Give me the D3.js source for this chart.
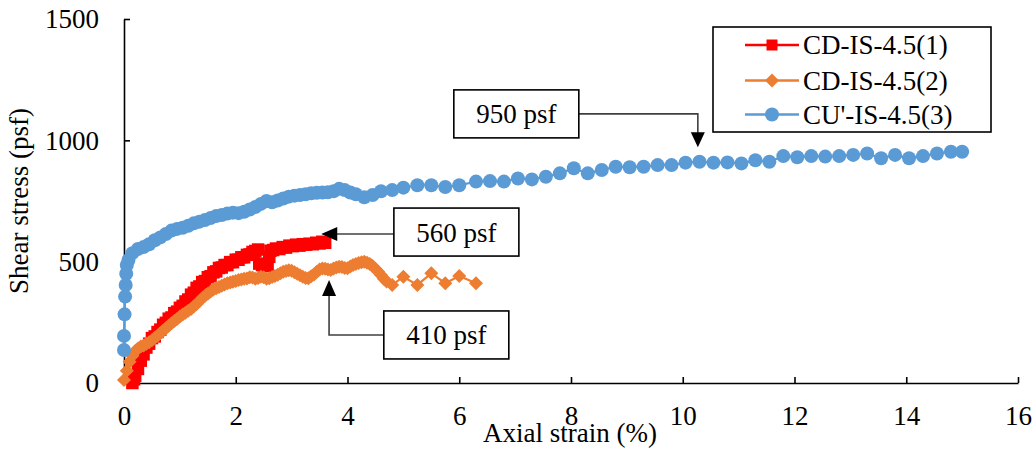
<!DOCTYPE html>
<html>
<head>
<meta charset="utf-8">
<script src="https://cdn.jsdelivr.net/npm/d3@7"></script>
<style>
  body { margin: 0; background: #fff; }
  svg { display: block; }
  text { font-family: "Liberation Serif", "Times New Roman", serif; fill: #000; }
</style>
</head>
<body>
<svg id="chart" width="1036" height="453"></svg>
<script>
// Series names (legend order)
const seriesNames = ["CD-IS-4.5(1)", "CD-IS-4.5(2)", "CU'-IS-4.5(3)"];

// CD-IS-4.5(1): axial strain (%) and shear stress (psf)
const strain1 = [0.15, 0.18, 0.2, 0.25, 0.3, 0.35, 0.4, 0.45, 0.5, 0.55, 0.6, 0.65, 0.7, 0.75, 0.8, 0.85, 0.9, 0.95,
  1.0, 1.05, 1.1, 1.15, 1.2, 1.25, 1.3, 1.35, 1.4, 1.45, 1.5, 1.55, 1.6, 1.65, 1.7, 1.75, 1.8, 1.85, 1.9, 1.95,
  2.0, 2.05, 2.1, 2.15, 2.2, 2.25, 2.3, 2.35, 2.4, 2.42, 2.47, 2.52, 2.57, 2.6, 2.62, 2.67, 2.72, 2.78, 2.84,
  2.9, 2.96, 3.02, 3.08, 3.14, 3.2, 3.26, 3.32, 3.38, 3.44, 3.5, 3.55, 3.6];
const stress1 = [0, 15, 30, 58, 92, 118, 146, 162, 185, 192, 210, 220, 240, 248, 265, 270, 288, 294,
  310, 318, 336, 344, 364, 372, 392, 398, 416, 420, 436, 440, 456, 460, 474, 476, 486, 486, 498, 498,
  508, 508, 518, 518, 528, 530, 540, 544, 550, 492, 486, 482, 486, 520, 545, 548, 554, 552, 560,
  558, 566, 564, 570, 566, 572, 570, 574, 572, 578, 575, 582, 578];

// CD-IS-4.5(2)
const strain2 = [0.0, 0.05, 0.1, 0.15, 0.2, 0.25, 0.3, 0.35, 0.4, 0.45, 0.5, 0.55, 0.6, 0.65, 0.7, 0.75, 0.8, 0.85,
  0.9, 0.95, 1.0, 1.05, 1.1, 1.15, 1.2, 1.25, 1.3, 1.35, 1.4, 1.45, 1.5, 1.55, 1.6, 1.65, 1.7, 1.75, 1.8, 1.85,
  1.9, 1.95, 2.0, 2.05, 2.1, 2.15, 2.2, 2.25, 2.3, 2.35, 2.4, 2.45, 2.5, 2.55, 2.6, 2.65, 2.7, 2.75, 2.8, 2.85,
  2.9, 2.95, 3.0, 3.05, 3.1, 3.15, 3.2, 3.25, 3.3, 3.35, 3.4, 3.45, 3.5, 3.55, 3.6, 3.65, 3.7, 3.75, 3.8, 3.85,
  3.9, 3.95, 4.0, 4.05, 4.1, 4.15, 4.2, 4.25, 4.3, 4.35, 4.4, 4.45, 4.5, 4.55, 4.6, 4.65, 4.7, 4.8,
  5.0, 5.25, 5.5, 5.75, 6.0, 6.3];
const stress2 = [12, 50, 88, 112, 132, 142, 150, 155, 162, 168, 176, 186, 195, 206, 215, 226, 236, 246,
  256, 264, 274, 282, 290, 298, 305, 316, 326, 338, 350, 360, 368, 377, 385, 390, 396, 401, 406, 411,
  414, 417, 420, 424, 426, 430, 431, 436, 435, 430, 433, 438, 436, 430, 432, 437, 441, 446, 452, 458,
  462, 465, 463, 456, 450, 444, 438, 433, 432, 440, 447, 458, 468, 472, 471, 468, 466, 472, 476, 479,
  478, 474, 473, 480, 486, 490, 494, 498, 500, 496, 490, 482, 470, 458, 445, 430, 418, 404,
  438, 404, 452, 411, 441, 411];

// CU'-IS-4.5(3)
const strain3 = [0.0, 0.0, 0.01, 0.02, 0.03, 0.04, 0.05, 0.08, 0.15, 0.25, 0.35, 0.45, 0.55, 0.65, 0.75, 0.85,
  0.95, 1.05, 1.15, 1.25, 1.35, 1.45, 1.55, 1.65, 1.75, 1.85, 1.95, 2.05, 2.15, 2.25, 2.35, 2.45, 2.55, 2.65,
  2.75, 2.85, 2.95, 3.05, 3.15, 3.25, 3.35, 3.45, 3.55, 3.65, 3.75, 3.85, 3.95, 4.05, 4.15, 4.3, 4.45, 4.6,
  4.8, 5.0, 5.25, 5.5, 5.75, 6.0, 6.3, 6.55, 6.8, 7.05, 7.3, 7.55, 7.8, 8.05, 8.3, 8.55, 8.8, 9.05, 9.3,
  9.55, 9.8, 10.05, 10.3, 10.55, 10.8, 11.05, 11.3, 11.55, 11.8, 12.05, 12.3, 12.55, 12.8, 13.05, 13.3,
  13.55, 13.8, 14.05, 14.3, 14.55, 14.8, 15.0];
const stress3 = [136, 194, 283, 356, 404, 450, 486, 507, 535, 552, 560, 572, 588, 600, 614, 628,
  635, 640, 648, 658, 665, 672, 680, 688, 692, 698, 702, 700, 706, 715, 725, 738, 750, 745,
  752, 760, 768, 772, 775, 778, 782, 784, 785, 786, 790, 800, 795, 785, 778, 765, 775, 790,
  795, 805, 815, 815, 808, 815, 830, 832, 830, 843, 839, 850, 864, 885, 864, 878, 891, 889, 891,
  898, 898, 908, 912, 908, 909, 905, 918, 912, 935, 930, 935, 933, 935, 940, 946,
  926, 940, 926, 935, 946, 953, 953];

// Axis ticks
const xTicks = [0, 2, 4, 6, 8, 10, 12, 14, 16];
const yTicks = [0, 500, 1000, 1500];

// Callout labels and their anchors in data units
const calloutText = ["560 psf", "410 psf", "950 psf"];
const calloutTip = [[3.53, 614], [3.67, 424], [10.27, 972]];
const calloutBox = [[4.83, 622], [4.65, 198], [8.14, 1109]];

const colors = ["#FF0000", "#ED7D31", "#5B9BD5"];

const svg = d3.select("#chart");
const x = d3.scaleLinear().domain([0, 16]).range([124, 1018]);
const y = d3.scaleLinear().domain([0, 1500]).range([383, 19]);

// Axes with inward ticks
const xAxis = d3.axisBottom(x).tickValues(xTicks).tickSizeInner(-6).tickSizeOuter(0).tickPadding(0).tickFormat(d3.format("d"));
const yAxis = d3.axisLeft(y).tickValues(yTicks).tickSizeInner(-6).tickSizeOuter(0).tickPadding(0).tickFormat(d3.format("d"));

const gx = svg.append("g").attr("transform", `translate(0,${y(0)})`).call(xAxis);
const gy = svg.append("g").attr("transform", `translate(${x(0)},0)`).call(yAxis);
[gx, gy].forEach(g => {
  g.select(".domain").attr("stroke", "#000").attr("stroke-width", 1.6);
  g.selectAll(".tick line").attr("stroke", "#000").attr("stroke-width", 1.6);
  g.selectAll(".tick text").attr("font-size", 27).attr("font-family", "Liberation Serif").attr("fill", "#000");
});
gx.selectAll(".tick text").attr("dy", 0).attr("y", 42);
gy.selectAll(".tick text").attr("x", -25).attr("dy", "0.33em");

// Axis titles
svg.append("text").attr("x", 570).attr("y", 442).attr("text-anchor", "middle")
  .attr("font-size", 27).text("Axial strain (%)");
svg.append("text").attr("transform", `translate(28,201) rotate(-90)`).attr("text-anchor", "middle")
  .attr("font-size", 27).text("Shear stress (psf)");

// Marker shapes
const squarePath = d3.symbol().type(d3.symbolSquare).size(156)();
const diamondPath = "M0,-7L7,0L0,7L-7,0Z";
function drawMarker(g, kind, color, legend) {
  if (kind === 0) g.append("path").attr("d", legend ? d3.symbol().type(d3.symbolSquare).size(121)() : squarePath).attr("fill", color);
  else if (kind === 1) g.append("path").attr("d", diamondPath).attr("fill", color);
  else g.append("circle").attr("r", 7).attr("fill", color);
}

const seriesData = [
  d3.zip(strain1, stress1),
  d3.zip(strain2, stress2),
  d3.zip(strain3, stress3)
];
const line = d3.line().x(d => x(d[0])).y(d => y(d[1]));

seriesData.forEach((data, i) => {
  const g = svg.append("g");
  g.append("path").datum(data).attr("d", line).attr("fill", "none")
    .attr("stroke", colors[i]).attr("stroke-width", 2.2);
  g.selectAll("g.pt").data(data).join("g").attr("class", "pt")
    .attr("transform", d => `translate(${x(d[0])},${y(d[1])})`)
    .each(function () { drawMarker(d3.select(this), i, colors[i], false); });
});

// Callouts
const boxW = 125, boxH = 48;
function arrowHead(g, tx, ty, dir) {
  let p;
  if (dir === "left") p = [[tx, ty], [tx + 16, ty - 7], [tx + 16, ty + 7]];
  else if (dir === "up") p = [[tx, ty], [tx - 7, ty + 16], [tx + 7, ty + 16]];
  else p = [[tx, ty], [tx - 7, ty - 15], [tx + 7, ty - 15]];
  g.append("path").attr("d", "M" + p.map(q => q.join(",")).join("L") + "Z").attr("fill", "#000");
}
const ann = svg.append("g");
calloutText.forEach((t, i) => {
  const tx = x(calloutTip[i][0]), ty = y(calloutTip[i][1]);
  const bx = x(calloutBox[i][0]), by = y(calloutBox[i][1]);
  let left, pts, dir;
  if (i === 0) { left = bx; pts = [[bx, ty], [tx + 14, ty]]; dir = "left"; }
  else if (i === 1) { left = bx; pts = [[bx, by], [tx, by], [tx, ty + 14]]; dir = "up"; }
  else { left = bx - boxW; pts = [[bx, by], [tx, by], [tx, ty - 13]]; dir = "down"; }
  ann.append("path").attr("d", "M" + pts.map(q => q.join(",")).join("L"))
    .attr("fill", "none").attr("stroke", "#404040").attr("stroke-width", 1.6);
  arrowHead(ann, tx, ty, dir);
  ann.append("rect").attr("x", left).attr("y", by - boxH / 2).attr("width", boxW).attr("height", boxH)
    .attr("fill", "#fff").attr("stroke", "#000").attr("stroke-width", 1.6);
  ann.append("text").attr("x", left + boxW / 2).attr("y", by).attr("dy", "0.35em")
    .attr("text-anchor", "middle").attr("font-size", 27).text(t);
});

// Legend
const lg = svg.append("g");
lg.append("rect").attr("x", 713).attr("y", 27).attr("width", 278).attr("height", 105)
  .attr("fill", "#fff").attr("stroke", "#000").attr("stroke-width", 1.6);
const rowY = [45, 80.5, 114.5];
seriesNames.forEach((name, i) => {
  const r = lg.append("g").attr("transform", `translate(0,${rowY[i]})`);
  r.append("line").attr("x1", 745).attr("x2", 799).attr("y1", 0).attr("y2", 0)
    .attr("stroke", colors[i]).attr("stroke-width", 2.5);
  const m = r.append("g").attr("transform", "translate(772,0)");
  drawMarker(m, i, colors[i], true);
  r.append("text").attr("x", 803).attr("y", 0).attr("dy", "0.35em").attr("font-size", 27).text(name);
});
</script>
</body>
</html>
